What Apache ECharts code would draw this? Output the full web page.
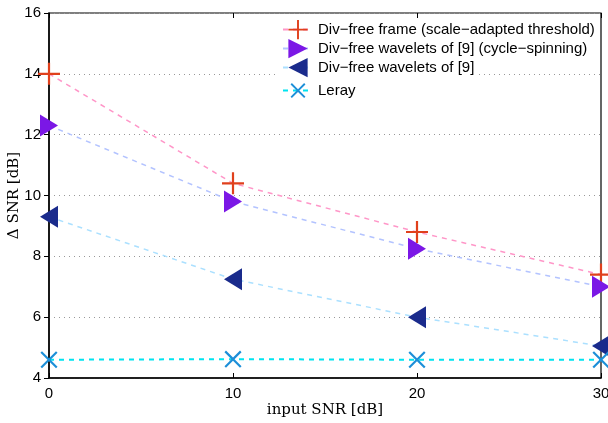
<!DOCTYPE html>
<html>
<head>
<meta charset="utf-8">
<script src="https://cdn.jsdelivr.net/npm/echarts@6/dist/echarts.min.js"></script>
<style>
  html, body { margin: 0; padding: 0; background: #fff; }
  #chart { width: 608px; height: 423px; }
</style>
</head>
<body>
<div id="chart"></div>
<script>
const inputSnr = [0, 10, 20, 30];
const frameScaleAdapted = [14.0, 10.4, 8.8, 7.4];
const waveletsCycleSpin = [12.3, 9.8, 8.25, 7.0];
const wavelets = [9.3, 7.25, 6.0, 5.05];
const leray = [4.6, 4.62, 4.6, 4.6];
const seriesNames = [
  'Div\u2212free frame (scale\u2212adapted threshold)',
  'Div\u2212free wavelets of [9] (cycle\u2212spinning)',
  'Div\u2212free wavelets of [9]',
  'Leray'
];

const plusPath = 'path://M9,0 L11,0 L11,9 L20,9 L20,11 L11,11 L11,20 L9,20 L9,11 L0,11 L0,9 L9,9 Z';
const rightTri = 'path://M0,0 L18,11 L0,22 Z';
const leftTri = 'path://M18,0 L0,11 L18,22 Z';

function pairs(ys) {
  return inputSnr.map((x, i) => [x, ys[i]]);
}

function lineSeries(name, ys, lineColor, markColor, symbol, size, rotate, width) {
  return {
    name: name,
    type: 'line',
    data: pairs(ys),
    symbol: symbol,
    symbolSize: size,
    symbolRotate: rotate || 0,
    showAllSymbol: true,
    lineStyle: { color: lineColor, width: width || 1.5, type: [5, 5] },
    itemStyle: { color: markColor },
    emphasis: { disabled: true },
    animation: false
  };
}

// one legend per row so the big markers can overlap like the original
const legendRows = [32, 51, 70, 89];
const legends = seriesNames.map((name, i) => ({
  orient: 'vertical',
  left: 276, top: legendRows[i] - 14,
  padding: [2, 3, 2, 6],
  backgroundColor: '#fff',
  itemWidth: 30, itemHeight: 24,
  textStyle: { fontFamily: 'Liberation Sans, Arial', fontSize: 15, color: '#000' },
  data: [name]
}));

var myChart = echarts.init(document.getElementById('chart'));

const option = {
  animation: false,
  grid: {
    left: 49, top: 13, right: 7, bottom: 45,
    outerBoundsMode: 'none',
    containLabel: false,
    show: true, borderColor: '#000', borderWidth: 1.2
  },
  legend: legends,
  xAxis: [{
    type: 'value', min: 0, max: 30, interval: 10,
    name: 'input SNR [dB]', nameLocation: 'middle', nameGap: 25, nameMoveOverlap: false,
    nameTextStyle: { fontFamily: 'DejaVu Serif', fontSize: 15, color: '#000' },
    axisLine: { lineStyle: { color: '#000', width: 1.5 } },
    axisTick: { inside: true, length: 5, lineStyle: { color: '#000' } },
    axisLabel: { fontFamily: 'Liberation Sans, Arial', fontSize: 15, color: '#000', margin: 8 },
    splitLine: { show: false }
  }, {
    type: 'value', min: 0, max: 30, interval: 10, position: 'top',
    axisLine: { show: false },
    axisTick: { inside: true, length: 5, lineStyle: { color: '#000' } },
    axisLabel: { show: false },
    splitLine: { show: false }
  }],
  yAxis: [{
    type: 'value', min: 4, max: 16, interval: 2,
    name: '\u0394 SNR [dB]', nameLocation: 'middle', nameGap: 27, nameMoveOverlap: false,
    nameTextStyle: { fontFamily: 'DejaVu Serif', fontSize: 15, color: '#000' },
    axisLine: { show: true, lineStyle: { color: '#000', width: 1.5 } },
    axisTick: { show: true, inside: false, length: 4, lineStyle: { color: '#000' } },
    axisLabel: { fontFamily: 'Liberation Sans, Arial', fontSize: 15, color: '#000', margin: 8 },
    splitLine: { show: true, lineStyle: { color: '#999', type: [1, 4], width: 1 } }
  }, {
    type: 'value', min: 4, max: 16, interval: 2, position: 'right',
    axisLine: { show: false },
    axisTick: { show: true, inside: true, length: 5, lineStyle: { color: '#000' } },
    axisLabel: { show: false },
    splitLine: { show: false }
  }],
  series: [
    lineSeries(seriesNames[0], frameScaleAdapted, '#ff96c8', '#e0401c', plusPath, 22),
    lineSeries(seriesNames[1], waveletsCycleSpin, '#b3c3ff', '#7b17e6', rightTri, [18, 22]),
    lineSeries(seriesNames[2], wavelets, '#abe0ff', '#1a2b8c', leftTri, [18, 22]),
    lineSeries(seriesNames[3], leray, '#00e3f0', '#1d8fd8', plusPath, 22, 45, 2)
  ]
};

myChart.setOption(option);
</script>
</body>
</html>
